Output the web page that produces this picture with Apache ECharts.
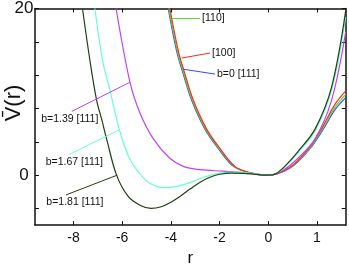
<!DOCTYPE html>
<html><head><meta charset="utf-8">
<script src="https://cdn.jsdelivr.net/npm/echarts@6/dist/echarts.min.js"></script>
<style>html,body{margin:0;padding:0;background:#fff}#c{width:349px;height:272px}</style>
</head><body><div id="c"></div>
<script>
// ---- data (r, V) ----
const rBlue = [-4.11,-3.76,-3.53,-3.15,-2.60,-2.05,-1.43,-0.75,0,0.446,0.857,1.13,1.37,1.59];
const vBlue = [20,14.84,12.51,9.01,5.52,3.18,1.05,0.27,0,0.85,3.18,5.52,7.85,9.3];
const rGreen = [-4.08,-3.73,-3.50,-3.12,-2.57,-2.02,-1.40,-0.74,0,0.44,0.855,1.125,1.365,1.59];
const vGreen = [20,14.84,12.51,9.01,5.52,3.18,1.05,0.27,0,0.87,3.25,5.65,8.1,9.7];
const rRed = [-4.04,-3.69,-3.46,-3.08,-2.53,-1.98,-1.37,-0.72,0,0.44,0.85,1.12,1.36,1.59];
const vRed = [20,14.84,12.51,9.01,5.52,3.18,1.05,0.27,0,0.9,3.35,5.85,8.4,10.1];
const rMag = [-6.25,-5.68,-5.27,-4.72,-4.04,-3.49,-2.80,-1.86,-0.89,0,0.276,0.61,0.96,1.30,1.59];
const vMag = [20,11.15,7.46,4.35,2.02,1.05,0.65,0.47,0.27,0,0.47,2.02,4.35,9.01,17.2];
const rCyan = [-7.12,-6.80,-6.50,-6.11,-5.68,-5.06,-4.6,-4.2,-3.8,-3.4,-3.0,-2.6,-2.2,-1.8,-1.2,-0.6,0,0.15,0.343,0.61,0.96,1.30,1.59];
const vCyan = [20,13.68,10.18,5.4,1.9,-0.55,-1.35,-1.5,-1.38,-1.08,-0.65,-0.2,0.12,0.3,0.35,0.18,0,0.14,1.0,2.7,5.3,10.2,19.0];
const rDark = [-7.63,-7.32,-7.05,-6.84,-6.64,-6.23,-5.76,-5.27,-4.82,-4.4,-4.0,-3.6,-3.2,-2.8,-2.4,-2.0,-1.5,-1.0,-0.5,0,0.15,0.343,0.61,0.96,1.30,1.59];
const vDark = [20,13.68,9.01,6.68,4.35,0,-2.53,-3.62,-3.99,-3.8,-3.25,-2.5,-1.65,-0.85,-0.25,0.1,0.25,0.22,0.08,0,0.15,1.08,2.83,5.52,10.57,19.74];
const xTicks = [-8,-6,-4,-2,0,1];
const yTicks = [-4,0,4,8,12,16,20];
const yLabels = [0,20];
// leader lines: [curve point, label end] in (r,V)
const leaders = {
  green: [[-3.95,18.81],[-2.80,18.81]],
  red: [[-3.555,14.06],[-2.39,14.65]],
  blue: [[-3.49,12.71],[-2.19,12.13]],
  mag: [[-5.68,11.15],[-8.07,7.65]],
  cyan: [[-6.12,5.43],[-8.17,2.48]],
  dark: [[-6.20,0.0],[-8.31,-2.38]]
};
const labels = {green:'[110]', red:'[100]', blue:'b=0 [111]', mag:'b=1.39 [111]', cyan:'b=1.67 [111]', dark:'b=1.81 [111]'};

// piecewise axis: positive r stretched x2
const toU = r => r > 0 ? 2*r : r;
const fromU = u => u > 0 ? u/2 : u;
const pts = (rs, vs) => rs.map((r,i)=>[toU(r), vs[i]]);
const FONT = "'Liberation Sans', Arial, sans-serif";

function mk(name, rs, vs, color, key, lblPos, lblOff){
  const L = leaders[key];
  return {
    type:'line', name, data: pts(rs,vs), smooth:0.35, showSymbol:false, clip:true,
    lineStyle:{color, width:1.2}, itemStyle:{color},
    markLine:{silent:true, symbol:['none','none'], animation:false,
      lineStyle:{color, width:1, type:'solid'}, label:{show:false},
      data:[[{coord:[toU(L[0][0]),L[0][1]]},{coord:[toU(L[1][0]),L[1][1]]}]]},
    markPoint:{silent:true, animation:false, symbolSize:0,
      data:[{coord:[toU(L[1][0]),L[1][1]],
        label:{show:true, formatter:labels[key], position:lblPos, distance:2, offset:lblOff,
          color:'#111', fontSize:10.5, fontFamily:FONT}}]}
  };
}

const chart = echarts.init(document.getElementById('c'), null, {renderer:'canvas'});
const axLine = {show:true, onZero:false, lineStyle:{color:'#111', width:1.5}};
chart.setOption({
  animation:false,
  grid:{left:35, right:3.3, top:6, bottom:43, containLabel:false},
  xAxis:[{type:'value', min:-9.58, max:3.18, axisLine:axLine, splitLine:{show:false},
    axisTick:{show:true, inside:true, length:4, customValues:xTicks.map(toU), lineStyle:{color:'#111'}},
    axisLabel:{show:true, customValues:xTicks.map(toU), formatter:v=>String(Math.round(fromU(v))), color:'#111', fontSize:14, fontFamily:FONT, margin:6},
    name:'r', nameLocation:'middle', nameGap:22, nameTextStyle:{fontSize:17, color:'#111', fontFamily:FONT}},
   {type:'value', position:'top', min:-9.58, max:3.18, axisLine:axLine, splitLine:{show:false},
    axisTick:{show:true, inside:true, length:4, customValues:xTicks.map(toU), lineStyle:{color:'#111'}},
    axisLabel:{show:false}}],
  yAxis:[{type:'value', min:-6, max:20, axisLine:axLine, splitLine:{show:false},
    axisTick:{show:true, inside:true, length:4, customValues:yTicks, lineStyle:{color:'#111'}},
    axisLabel:{show:true, customValues:yLabels, color:'#111', fontSize:17, fontFamily:FONT, align:'center', margin:11}},
   {type:'value', position:'right', min:-6, max:20, axisLine:axLine, splitLine:{show:false},
    axisTick:{show:true, inside:true, length:4, customValues:yTicks, lineStyle:{color:'#111'}},
    axisLabel:{show:false}}],
  graphic:[{type:'text', x:14, y:103, rotation:Math.PI/2,
    style:{text:'V\u0304(r)', font:"22px 'Liberation Sans', Arial, sans-serif", fill:'#111', align:'center', verticalAlign:'middle'}}],
  series:[
    mk('blue', rBlue, vBlue, '#2f4cff', 'blue', 'right', [0,0]),
    mk('green', rGreen, vGreen, '#55dd22', 'green', 'right', [0,0]),
    mk('red', rRed, vRed, '#ff2a1a', 'red', 'right', [0,0]),
    mk('mag', rMag, vMag, '#c040f8', 'mag', 'bottom', [-2,0]),
    mk('cyan', rCyan, vCyan, '#66ffd0', 'cyan', 'bottom', [5,0]),
    mk('dark', rDark, vDark, '#1f3f12', 'dark', 'bottom', [9,0])
  ]
});
</script></body></html>
